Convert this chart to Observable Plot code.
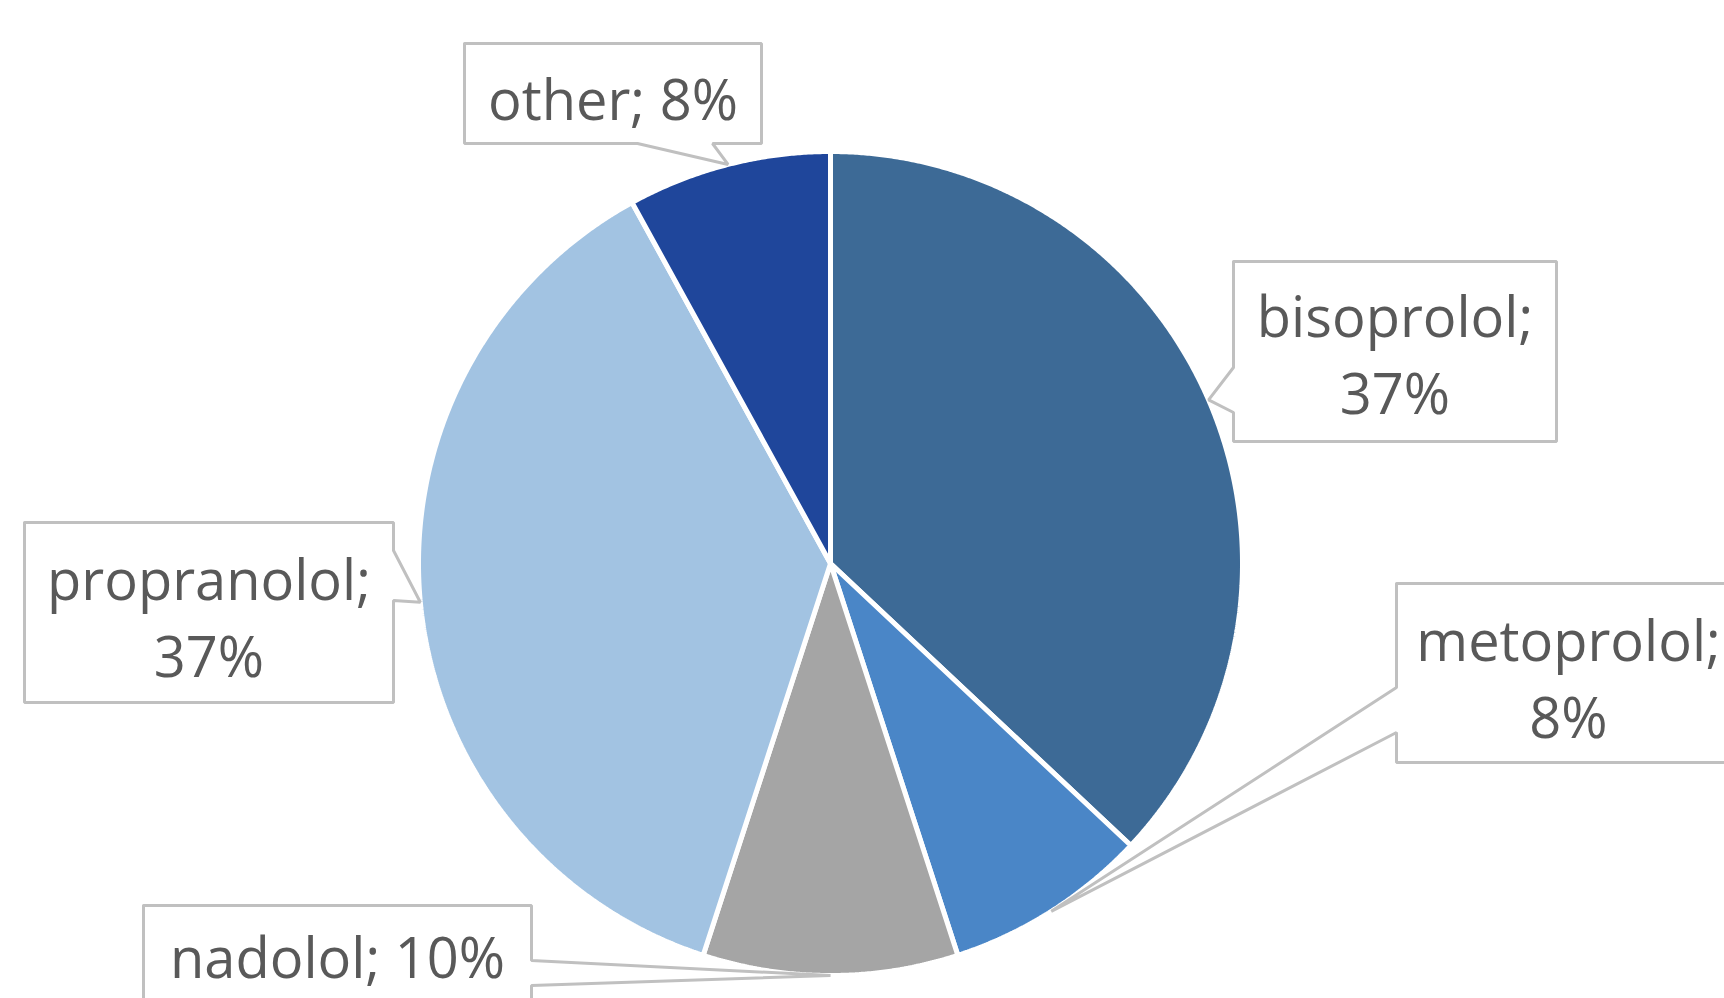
<!DOCTYPE html>
<html><head><meta charset="utf-8">
<script src="https://cdn.jsdelivr.net/npm/d3@7"></script>
<script src="https://cdn.jsdelivr.net/npm/@observablehq/plot@0.6"></script>
<style>html,body{margin:0;padding:0;background:#fff;overflow:hidden}</style>
</head><body><div id="chart"></div>
<script>
// ---- data ----
const categories = ["bisoprolol", "metoprolol", "nadolol", "propranolol", "other"];
const shares = [37, 8, 10, 37, 8];
const sliceColors = ["#3D6A96", "#4A86C7", "#A5A5A5", "#A2C3E2", "#1F469B"];
const wrapLabel = [true, true, false, true, false];

// ---- layout (pixels) ----
const W = 1724, H = 998;
const pie = {cx: 830, cy: 563, r: 412};
const boxes = [
  {x0: 1233, x1: 1556, y0: 261, y1: 441, side: "left",   b0: 367, b1: 412, ty: 350},
  {x0: 1396, x1: 1740, y0: 583, y1: 762, side: "left",   b0: 687, b1: 732, ty: 674},
  {x0: 143,  x1: 531,  y0: 905, y1: 1010, side: "right", b0: 960, b1: 985, ty: 953},
  {x0: 24,   x1: 393,  y0: 522, y1: 702, side: "right",  b0: 550, b1: 600, ty: 613},
  {x0: 464,  x1: 761,  y0: 43,  y1: 143, side: "bottom", b0: 637, b1: 712, ty: 95}
];

const data = categories.map((c, i) => ({name: c, value: shares[i], color: sliceColors[i]}));
const arcs = d3.pie().sort(null).value(d => d.value)(data);
const pt = a => [pie.cx + pie.r * Math.sin(a), pie.cy - pie.r * Math.cos(a)];

const marks = [];
arcs.forEach(a => {
  const pts = [{x: pie.cx, y: pie.cy}];
  const n = Math.max(2, Math.ceil((a.endAngle - a.startAngle) / 0.005));
  for (let k = 0; k <= n; k++) {
    const [x, y] = pt(a.startAngle + (a.endAngle - a.startAngle) * k / n);
    pts.push({x, y});
  }
  pts.push({x: pie.cx, y: pie.cy});
  marks.push(Plot.line(pts, {x: "x", y: "y", fill: a.data.color, stroke: "white", strokeWidth: 5, strokeLinejoin: "miter"}));
});

const labels = [];
arcs.forEach((a, i) => {
  const b = boxes[i];
  const [tx, ty] = pt((a.startAngle + a.endAngle) / 2);
  let p;
  if (b.side === "left") p = [[b.x0,b.y0],[b.x1,b.y0],[b.x1,b.y1],[b.x0,b.y1],[b.x0,b.b1],[tx,ty],[b.x0,b.b0],[b.x0,b.y0]];
  else if (b.side === "right") p = [[b.x0,b.y0],[b.x1,b.y0],[b.x1,b.b0],[tx,ty],[b.x1,b.b1],[b.x1,b.y1],[b.x0,b.y1],[b.x0,b.y0]];
  else p = [[b.x0,b.y0],[b.x1,b.y0],[b.x1,b.y1],[b.b1,b.y1],[tx,ty],[b.b0,b.y1],[b.x0,b.y1],[b.x0,b.y0]];
  marks.push(Plot.line(p.map(([x, y]) => ({x, y})), {x: "x", y: "y", fill: "white", stroke: "#C0C0C0", strokeWidth: 3, strokeLinejoin: "miter"}));
  labels.push({
    x: (b.x0 + b.x1) / 2,
    y: b.ty,
    text: a.data.name + ";" + (wrapLabel[i] ? "\n" : " ") + a.data.value + "%"
  });
});

marks.push(Plot.text(labels, {x: "x", y: "y", text: "text", fontSize: 56, lineHeight: 1.38, fill: "#595959", fontFamily: "'Open Sans', 'Noto Sans', sans-serif", textAnchor: "middle"}));

const chart = Plot.plot({
  width: W, height: H, margin: 0,
  x: {domain: [0, W], range: [0, W], axis: null},
  y: {domain: [0, H], range: [0, H], axis: null},
  style: {background: "white", overflow: "hidden"},
  marks
});
document.getElementById("chart").append(chart);
</script>
</body></html>
